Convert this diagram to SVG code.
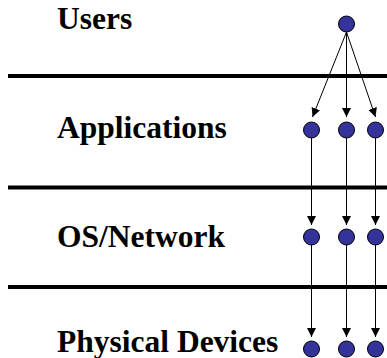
<svg xmlns="http://www.w3.org/2000/svg" width="387" height="358" viewBox="0 0 387 358">
<style>
.lbl{font-family:"Liberation Serif","Times New Roman",serif;font-weight:bold;font-size:31.5px;fill:#000}
.sep{stroke:#000;stroke-width:4}
.nd{fill:#333399;stroke:#000;stroke-width:1}
.cn{stroke:#000;stroke-width:1;fill:none;marker-end:url(#ah)}
</style>
<defs>
<marker id="ah" viewBox="0 0 10 10" refX="10" refY="5" markerWidth="9" markerHeight="9" markerUnits="userSpaceOnUse" orient="auto">
<path d="M0,0 L10,5 L0,10 Z" fill="#000"/>
</marker>
</defs>
<g id="layers">
<line class="sep" x1="8" y1="76" x2="387" y2="76"/>
<line class="sep" x1="8" y1="187.5" x2="387" y2="187.5"/>
<line class="sep" x1="8" y1="287" x2="387" y2="287"/>
</g>
<g id="labels">
<text class="lbl" x="57" y="29">Users</text>
<text class="lbl" x="57" y="138">Applications</text>
<text class="lbl" x="57" y="247">OS/Network</text>
<text class="lbl" x="57" y="352">Physical Devices</text>
</g>
<g id="connectors">
<line class="cn" x1="346.5" y1="32" x2="312.5" y2="117"/>
<line class="cn" x1="346.5" y1="32" x2="346.5" y2="117"/>
<line class="cn" x1="346.5" y1="32" x2="375.5" y2="117"/>
<line class="cn" x1="311.5" y1="138" x2="311.5" y2="225"/>
<line class="cn" x1="346.5" y1="138" x2="346.5" y2="225"/>
<line class="cn" x1="375.5" y1="138" x2="375.5" y2="225"/>
<line class="cn" x1="311.5" y1="245" x2="311.5" y2="337"/>
<line class="cn" x1="346.5" y1="245" x2="346.5" y2="337"/>
<line class="cn" x1="375.5" y1="245" x2="375.5" y2="337"/>
</g>
<g id="user"><circle class="nd" cx="346.5" cy="24" r="8"/></g>
<g id="app1"><circle class="nd" cx="311.5" cy="130" r="8"/></g>
<g id="app2"><circle class="nd" cx="346.5" cy="130" r="8"/></g>
<g id="app3"><circle class="nd" cx="375.5" cy="130" r="8"/></g>
<g id="os1"><circle class="nd" cx="311.5" cy="237" r="8"/></g>
<g id="os2"><circle class="nd" cx="346.5" cy="237" r="8"/></g>
<g id="os3"><circle class="nd" cx="375.5" cy="237" r="8"/></g>
<g id="dev1"><circle class="nd" cx="311.5" cy="349" r="8"/></g>
<g id="dev2"><circle class="nd" cx="346.5" cy="349" r="8"/></g>
<g id="dev3"><circle class="nd" cx="375.5" cy="349" r="8"/></g>
</svg>
